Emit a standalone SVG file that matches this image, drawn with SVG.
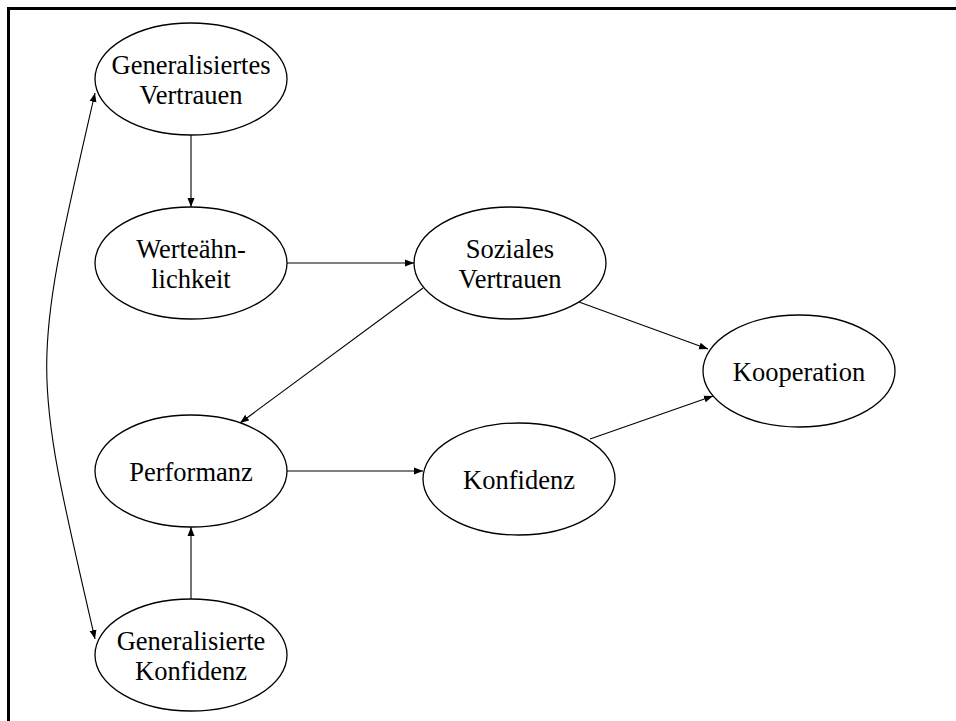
<svg xmlns="http://www.w3.org/2000/svg" width="956" height="721" viewBox="0 0 956 721">
<style>
.node ellipse{fill:#fff;stroke:#000;stroke-width:1.3}
.node text{font-family:"Liberation Serif","Times New Roman",serif;font-size:26.5px;fill:#000;text-anchor:middle}
.edge{fill:none;stroke:#000;stroke-width:1.1}
.frame{stroke:#000;stroke-width:3;fill:none}
</style>
<defs>
<marker id="ah" markerUnits="userSpaceOnUse" markerWidth="10" markerHeight="8" refX="9" refY="3.5" orient="auto-start-reverse" viewBox="0 0 10 7">
<path d="M0,0 L9,3.5 L0,7 z" fill="#000"/>
</marker>
</defs>
<rect width="956" height="721" fill="#fff"/>
<g id="frame">
<line class="frame" x1="7" y1="8.5" x2="956" y2="8.5"/>
<line class="frame" x1="8.5" y1="7" x2="8.5" y2="721"/>
</g>
<g id="connectors">
<line class="edge" x1="191" y1="135" x2="191" y2="207" marker-end="url(#ah)"/>
<line class="edge" x1="287" y1="263" x2="414" y2="263" marker-end="url(#ah)"/>
<line class="edge" x1="423" y1="288" x2="240" y2="423" marker-end="url(#ah)"/>
<line class="edge" x1="579" y1="302" x2="708" y2="349" marker-end="url(#ah)"/>
<line class="edge" x1="287" y1="471" x2="423" y2="471" marker-end="url(#ah)"/>
<line class="edge" x1="590" y1="439" x2="713" y2="396" marker-end="url(#ah)"/>
<line class="edge" x1="191" y1="599" x2="191" y2="527" marker-end="url(#ah)"/>
<path class="edge" d="M95,93 C30.6,373 30.6,360 95,639" marker-start="url(#ah)" marker-end="url(#ah)"/>
</g>
<g id="node-generalisiertes-vertrauen" class="node">
<ellipse cx="191" cy="79" rx="96" ry="56"/>
<text x="191" y="74">Generalisiertes</text>
<text x="191" y="104">Vertrauen</text>
</g>
<g id="node-werteaehnlichkeit" class="node">
<ellipse cx="191" cy="263" rx="96" ry="56"/>
<text x="191" y="258">Werteähn-</text>
<text x="191" y="288">lichkeit</text>
</g>
<g id="node-soziales-vertrauen" class="node">
<ellipse cx="510" cy="263" rx="96" ry="56"/>
<text x="510" y="258">Soziales</text>
<text x="510" y="288">Vertrauen</text>
</g>
<g id="node-kooperation" class="node">
<ellipse cx="799" cy="371" rx="96" ry="56"/>
<text x="799" y="381">Kooperation</text>
</g>
<g id="node-performanz" class="node">
<ellipse cx="191" cy="471" rx="96" ry="56"/>
<text x="191" y="481">Performanz</text>
</g>
<g id="node-konfidenz" class="node">
<ellipse cx="519" cy="479" rx="96" ry="56"/>
<text x="519" y="489">Konfidenz</text>
</g>
<g id="node-generalisierte-konfidenz" class="node">
<ellipse cx="191" cy="655" rx="96" ry="56"/>
<text x="191" y="650">Generalisierte</text>
<text x="191" y="680">Konfidenz</text>
</g>
</svg>
